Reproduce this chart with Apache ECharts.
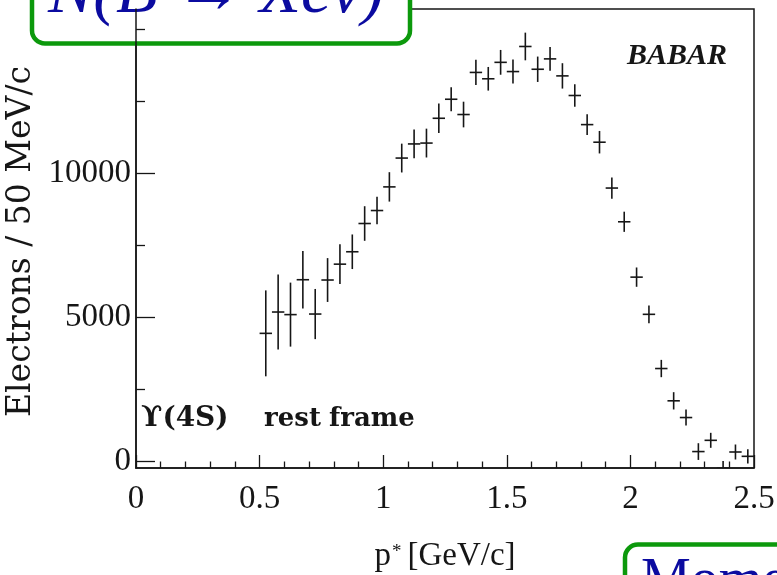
<!DOCTYPE html>
<html>
<head>
<meta charset="utf-8">
<script src="https://cdn.jsdelivr.net/npm/echarts@6/dist/echarts.min.js"></script>
<style>
  html, body { margin: 0; padding: 0; background: #fff; }
  #chart { width: 777px; height: 575px; }
</style>
</head>
<body>
<div id="chart"></div>
<script>
// Electron momentum spectrum in the Y(4S) rest frame, 50 MeV/c bins
const binCenters = [
  0.525, 0.575, 0.625, 0.675, 0.725, 0.775, 0.825, 0.875, 0.925, 0.975,
  1.025, 1.075, 1.125, 1.175, 1.225, 1.275, 1.325, 1.375, 1.425, 1.475,
  1.525, 1.575, 1.625, 1.675, 1.725, 1.775, 1.825, 1.875, 1.925, 1.975,
  2.025, 2.075, 2.125, 2.175, 2.225, 2.275, 2.325, 2.375, 2.425, 2.475
];
const electronCounts = [
  4450, 5190, 5100, 6310, 5120, 6300, 6850, 7280, 8260, 8710,
  9530, 10530, 11020, 11050, 11910, 12570, 12040, 13500, 13280, 13850,
  13530, 14400, 13610, 13970, 13380, 12700, 11690, 11080, 9490, 8320,
  6400, 5110, 3230, 2110, 1530, 350, 740, -230, 335, 185
];
const countErrors = [
  1490, 1300, 1110, 1000, 870, 760, 690, 600, 600, 480,
  510, 500, 500, 500, 510, 415, 445, 440, 410, 430,
  415, 480, 440, 415, 440, 390, 360, 390, 370, 350,
  335, 310, 300, 300, 280, 290, 260, 250, 260, 245
];
const yLabelTicks = [0, 5000, 10000];
const yMinorTicks = [2500, 7500, 12500, 15000];

const points = binCenters.map((x, i) => [x, electronCounts[i], countErrors[i]]);

const ink = '#161616';
const boxGreen = '#0c990c';
const textBlue = '#0b0ba0';

const chart = echarts.init(document.getElementById('chart'), null, { renderer: 'canvas' });

const yRange = { min: -220, max: 15700 };

const frameLabelStyle = { fontFamily: 'DejaVu Serif', fontWeight: 'bold', fontSize: 26, fill: ink };

chart.setOption({
  animation: false,
  backgroundColor: '#fff',
  grid: {
    left: 136, right: 23, top: 9, bottom: 107,
    outerBoundsMode: 'none', containLabel: false,
    show: true, borderColor: ink, borderWidth: 1.5, backgroundColor: 'transparent'
  },
  xAxis: {
    type: 'value', min: 0, max: 2.5, interval: 0.5,
    name: '{p|p}{s|*}{p|[GeV/c]}',
    nameLocation: 'middle', nameGap: 69,
    nameTextStyle: {
      rich: {
        p: { fontFamily: 'Liberation Serif', fontSize: 33, color: ink, lineHeight: 38 },
        s: { fontFamily: 'Liberation Serif', fontSize: 19, color: ink, verticalAlign: 'top', padding: [6, 6, 0, 1] }
      }
    },
    axisLine: { show: true, onZero: false, lineStyle: { color: ink, width: 1.5 } },
    axisTick: { show: true, inside: true, length: 13, lineStyle: { color: ink, width: 1.3 } },
    minorTick: { show: true, splitNumber: 5, length: 6.5, lineStyle: { color: ink, width: 1.3 } },
    axisLabel: {
      fontFamily: 'Liberation Serif', fontSize: 33, color: ink, margin: 15,
      formatter: v => String(v)
    },
    splitLine: { show: false }
  },
  yAxis: [
    {
      type: 'value', min: yRange.min, max: yRange.max,
      name: 'Electrons / 50 MeV/c',
      nameLocation: 'middle', nameGap: 93, nameRotate: 90,
      nameTextStyle: { fontFamily: 'DejaVu Serif', fontSize: 33, color: ink, padding: [0, 6, 0, 0] },
      axisLine: { show: true, onZero: false, lineStyle: { color: ink, width: 1.5 } },
      axisTick: { show: true, inside: true, length: 19, customValues: yLabelTicks, lineStyle: { color: ink, width: 1.3 } },
      axisLabel: {
        fontFamily: 'Liberation Serif', fontSize: 33, color: ink, margin: 5,
        customValues: yLabelTicks, formatter: v => String(v)
      },
      splitLine: { show: false }
    },
    {
      type: 'value', min: yRange.min, max: yRange.max, position: 'left',
      axisLine: { show: false },
      axisTick: { show: true, inside: true, length: 9, customValues: yMinorTicks, lineStyle: { color: ink, width: 1.3 } },
      axisLabel: { show: false },
      splitLine: { show: false }
    }
  ],
  series: [{
    type: 'custom',
    clip: true,
    data: points,
    encode: { x: 0, y: 1 },
    renderItem: (params, api) => {
      const x = api.value(0), v = api.value(1), e = api.value(2);
      const c = api.coord([x, v]);
      const hi = api.coord([x, v + e]);
      const lo = api.coord([x, v - e]);
      const hw = 6.2;
      const style = { stroke: ink, lineWidth: 1.6 };
      return {
        type: 'group',
        children: [
          { type: 'line', shape: { x1: c[0], y1: hi[1], x2: c[0], y2: lo[1] }, style },
          { type: 'line', shape: { x1: c[0] - hw, y1: c[1], x2: c[0] + hw, y2: c[1] }, style }
        ]
      };
    }
  }],
  graphic: [
    {
      type: 'text', left: 627, top: 41, z: 10,
      style: { text: 'BABAR', fontFamily: 'Liberation Serif', fontStyle: 'italic', fontWeight: 'bold', fontSize: 30, fill: ink }
    },
    { type: 'text', left: 141, top: 405, z: 10, style: Object.assign({}, frameLabelStyle, { text: 'ϒ(4S)', fontSize: 28 }) },
    { type: 'text', left: 264, top: 406, z: 10, style: Object.assign({ text: 'rest' }, frameLabelStyle) },
    { type: 'text', left: 329, top: 406, z: 10, style: Object.assign({ text: 'frame' }, frameLabelStyle) },
    {
      type: 'group', z: 20,
      children: [
        {
          type: 'rect', shape: { x: 32, y: -40, width: 378, height: 83.5, r: 13 },
          style: { fill: '#fff', stroke: boxGreen, lineWidth: 4.5 }
        },
        {
          type: 'text', x: 48, y: -40,
          style: { text: 'N(B → Xeν)', fontFamily: 'Liberation Serif', fontStyle: 'italic', fontSize: 68, fill: textBlue }
        }
      ]
    },
    {
      type: 'group', z: 20,
      children: [
        {
          type: 'rect', shape: { x: 625, y: 544.5, width: 260, height: 100, r: 13 },
          style: { fill: '#fff', stroke: boxGreen, lineWidth: 4.5 }
        },
        {
          type: 'text', x: 641, y: 554,
          style: { text: 'Momentum', fontFamily: 'Liberation Serif', fontSize: 56, fill: textBlue }
        }
      ]
    }
  ]
});
</script>
</body>
</html>
